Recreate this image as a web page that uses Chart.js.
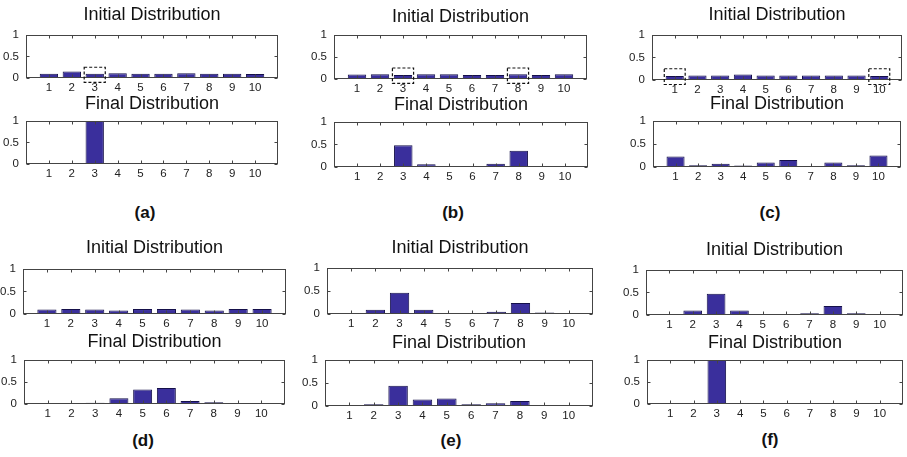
<!DOCTYPE html>
<html>
<head>
<meta charset="utf-8">
<script src="https://cdn.jsdelivr.net/npm/chart.js@4.4.0/dist/chart.umd.min.js"></script>
<style>
  body { margin: 0; background: #fff; width: 907px; height: 457px; position: relative; overflow: hidden;
         font-family: "Liberation Sans", Arial, sans-serif; }
  canvas { position: absolute; }
  .ttl { position: absolute; font-size: 18px; line-height: 18px; color: #111; white-space: nowrap; transform: translateX(-50%); }
  .lbl { position: absolute; font-size: 17px; line-height: 17px; font-weight: bold; color: #111; transform: translateX(-50%); }
</style>
</head>
<body>
<script>
// data
const bins = [1, 2, 3, 4, 5, 6, 7, 8, 9, 10];
const yTicks = [0, 0.5, 1];

const initA  = [0.1, 0.15, 0.1, 0.11, 0.1, 0.1, 0.11, 0.1, 0.1, 0.09];
const finalA = [0, 0, 1, 0, 0, 0, 0, 0, 0, 0];
const initB  = [0.1, 0.11, 0.09, 0.11, 0.11, 0.09, 0.09, 0.11, 0.09, 0.11];
const finalB = [0, 0, 0.48, 0.06, 0.02, 0.02, 0.07, 0.36, 0, 0];
const initC  = [0.09, 0.1, 0.1, 0.12, 0.1, 0.1, 0.1, 0.1, 0.1, 0.09];
const finalC = [0.23, 0.04, 0.07, 0.03, 0.1, 0.15, 0.01, 0.1, 0.04, 0.25];
const initD  = [0.1, 0.11, 0.1, 0.08, 0.11, 0.11, 0.1, 0.08, 0.11, 0.11];
const finalD = [0.01, 0.01, 0.03, 0.13, 0.33, 0.36, 0.07, 0.04, 0.01, 0.01];
const initE  = [0.01, 0.09, 0.46, 0.09, 0.01, 0, 0.05, 0.24, 0.03, 0];
const finalE = [0, 0.04, 0.44, 0.14, 0.16, 0.04, 0.06, 0.11, 0.01, 0];
const initF  = [0.01, 0.1, 0.47, 0.1, 0.01, 0, 0.04, 0.2, 0.04, 0];
const finalF = [0, 0, 1, 0, 0, 0, 0, 0, 0, 0];

// bins marked with a dashed box in the initial distribution
const markA = [3];
const markB = [3, 8];
const markC = [1, 10];

const titleInit = 'Initial Distribution';
const titleFinal = 'Final Distribution';

// layout: axes boxes [left, top, right, bottom], title baselines, panel letter
const panels = [
  { tag: '(a)', init: initA, fin: finalA, mark: markA, bi: [26, 29, 278, 78],  bf: [26, 115, 278, 164],  ti: 20,  tf: 109, lx: 145, ly: 218 },
  { tag: '(b)', init: initB, fin: finalB, mark: markB, bi: [334, 29, 587, 79], bf: [334, 116, 588, 167], ti: 22,  tf: 110, lx: 453, ly: 218 },
  { tag: '(c)', init: initC, fin: finalC, mark: markC, bi: [652, 29, 902, 80], bf: [653, 115, 901, 167], ti: 20,  tf: 109, lx: 770, ly: 218 },
  { tag: '(d)', init: initD, fin: finalD, mark: [],    bi: [23, 263, 286, 314], bf: [24, 354, 285, 404], ti: 253, tf: 347, lx: 143, ly: 446 },
  { tag: '(e)', init: initE, fin: finalE, mark: [],    bi: [327, 262, 593, 314], bf: [325, 354, 593, 406], ti: 253, tf: 348, lx: 451, ly: 446 },
  { tag: '(f)', init: initF, fin: finalF, mark: [],    bi: [646, 264, 903, 315], bf: [647, 354, 903, 404], ti: 255, tf: 348, lx: 770, ly: 445 }
];

const padL = 30, padT = 8, padR = 5, padB = 20;
const barFill = '#3a2f9c';
const barEdge = '#15104a';
const tickFont = { family: '"Liberation Sans", Arial', size: 11.5 };

// box, inward ticks and dashed highlight boxes
const frame = {
  id: 'frame',
  afterDraw(chart, args, opts) {
    const { ctx, chartArea: a, scales: { x, y } } = chart;
    ctx.save();
    ctx.strokeStyle = '#444';
    ctx.lineWidth = 1;
    const L = Math.round(a.left) + 0.5, T = Math.round(a.top) + 0.5;
    const R = Math.round(a.right) - 0.5, B = Math.round(a.bottom) - 0.5;
    ctx.strokeRect(L, T, R - L, B - T);
    ctx.beginPath();
    x.ticks.forEach(t => {
      const px = Math.round(x.getPixelForValue(t.value)) + 0.5;
      ctx.moveTo(px, B); ctx.lineTo(px, B - 3);
      ctx.moveTo(px, T); ctx.lineTo(px, T + 3);
    });
    y.ticks.forEach(t => {
      const py = Math.round(y.getPixelForValue(t.value)) + 0.5;
      ctx.moveTo(L, py); ctx.lineTo(L + 3, py);
      ctx.moveTo(R, py); ctx.lineTo(R - 3, py);
    });
    ctx.stroke();
    ctx.strokeStyle = '#111';
    ctx.lineWidth = 1.2;
    ctx.setLineDash([3, 2]);
    (opts.marks || []).forEach(m => {
      const x0 = x.getPixelForValue(m - 0.46), x1 = x.getPixelForValue(m + 0.46);
      const y0 = y.getPixelForValue(0.25), y1 = y.getPixelForValue(-0.1);
      ctx.strokeRect(x0, y0, x1 - x0, y1 - y0);
    });
    ctx.restore();
  }
};

function addText(cls, txt, x, top) {
  const d = document.createElement('div');
  d.className = cls;
  d.textContent = txt;
  d.style.left = x + 'px';
  d.style.top = top + 'px';
  document.body.appendChild(d);
}

function makePlot(box, values, marks) {
  const [l, t, r, b] = box;
  const c = document.createElement('canvas');
  c.width = r - l + padL + padR;
  c.height = b - t + padT + padB;
  c.style.left = (l - padL) + 'px';
  c.style.top = (t - padT) + 'px';
  document.body.appendChild(c);

  new Chart(c, {
    type: 'bar',
    data: {
      datasets: [{
        data: bins.map((bin, i) => ({ x: bin, y: values[i] })),
        backgroundColor: barFill,
        borderColor: barEdge,
        borderWidth: 1,
        borderSkipped: false,
        barPercentage: 0.8,
        categoryPercentage: 1
      }]
    },
    options: {
      responsive: false,
      animation: false,
      devicePixelRatio: 1,
      layout: { padding: { top: padT, right: padR, left: 0, bottom: 0 } },
      plugins: {
        legend: { display: false },
        tooltip: { enabled: false },
        frame: { marks: marks }
      },
      scales: {
        x: {
          type: 'linear', min: 0, max: 11, offset: false,
          grid: { display: false, drawTicks: false },
          border: { display: false },
          ticks: { stepSize: 1, padding: 3, autoSkip: false, maxRotation: 0, color: '#222', font: tickFont },
          afterBuildTicks: s => { s.ticks = bins.map(v => ({ value: v })); },
          afterFit: s => { s.height = padB; }
        },
        y: {
          min: 0, max: 1,
          grid: { display: false, drawTicks: false },
          border: { display: false },
          ticks: { padding: 7, color: '#222', font: tickFont, callback: v => String(v) },
          afterBuildTicks: s => { s.ticks = yTicks.map(v => ({ value: v })); },
          afterFit: s => { s.width = padL; }
        }
      }
    },
    plugins: [frame]
  });
}

panels.forEach(p => {
  makePlot(p.bi, p.init, p.mark);
  makePlot(p.bf, p.fin, []);
  addText('ttl', titleInit, (p.bi[0] + p.bi[2]) / 2, p.ti - 15);
  addText('ttl', titleFinal, (p.bf[0] + p.bf[2]) / 2, p.tf - 15);
  addText('lbl', p.tag, p.lx, p.ly - 14);
});
</script>
</body>
</html>
